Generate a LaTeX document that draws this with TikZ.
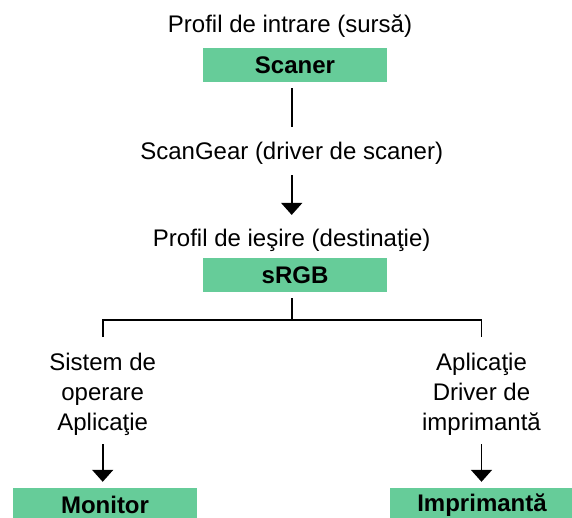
\documentclass[tikz,border=0pt]{standalone}
\usepackage{fontspec}
\setmainfont{Liberation Sans}
\usetikzlibrary{arrows.meta}
\definecolor{boxgreen}{HTML}{66CC99}

\begin{document}
\begin{tikzpicture}[x=1pt,y=-1pt,
  font=\fontsize{24}{30}\selectfont,
  prof/.style={rectangle,fill=boxgreen,minimum width=184pt,minimum height=34pt,inner sep=0pt,font=\fontsize{24}{30}\selectfont\bfseries},
  lbl/.style={inner sep=0pt,align=center},
  ln/.style={line width=1.8pt},
  arr/.style={ln,-{Triangle[width=21pt,length=12pt]}}]
  \useasboundingbox (0,0) rectangle (572,518);
  \clip (0,0) rectangle (572,518);
  % profiles and devices
  \node[lbl,anchor=base] (intrare) at (290,33) {Profil de intrare (sursă)};
  \node[prof] (scaner) at (295,65) {Scaner};
  \node[lbl,anchor=base] (scangear) at (291.7,160) {ScanGear (driver de scaner)};
  \node[lbl,anchor=base] (iesire) at (291.7,247) {Profil de ieşire (destinaţie)};
  \node[prof] (srgb) at (295,275) {sRGB};
  \node[lbl] (sistem) at (102.7,394) {Sistem de\\operare\\Aplicaţie};
  \node[lbl] (aplic) at (481.5,394) {Aplicaţie\\Driver de\\imprimantă};
  \node[prof] (monitor) at (105,505) {Monitor};
  \node[prof] (imprim) at (482,505) {Imprimantă};
  \coordinate (fork) at (291.7,320);
  % connectors
  \draw[ln,shorten <=6pt,shorten >=15.5pt] (scaner.south -| scangear.north) -- (scangear.north);
  \draw[arr,shorten <=10pt,shorten >=14.5pt] (scangear.south) -- (iesire.north);
  \draw[ln,shorten <=6pt] (srgb.south -| fork) -- (fork);
  \draw[ln,shorten <=15.5pt,shorten >=15.5pt] (sistem.north) |- (fork) -| (aplic.north);
  \draw[arr,shorten <=9pt,shorten >=6pt] (sistem.south) -- (monitor.north -| sistem.south);
  \draw[arr,shorten <=9pt,shorten >=6pt] (aplic.south) -- (imprim.north -| aplic.south);
\end{tikzpicture}
\end{document}
